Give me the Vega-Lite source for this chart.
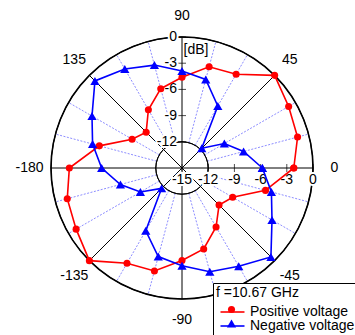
{
  "$schema": "https://vega.github.io/schema/vega-lite/v6.json",
  "width": 300,
  "height": 300,
  "autosize": {"type": "none"},
  "padding": {"left": 32, "top": 18, "right": 23, "bottom": 17},
  "background": "white",
  "config": {
    "view": {"stroke": null},
    "font": "Liberation Sans",
    "text": {"font": "Liberation Sans", "fontSize": 14, "color": "black"},
    "legend": {
      "titleFont": "Liberation Sans", "titleFontSize": 14, "titleFontWeight": "normal", "titleColor": "black",
      "labelFont": "Liberation Sans", "labelFontSize": 14, "labelColor": "black", "labelLimit": 200,
      "padding": 3, "rowPadding": 0
    }
  },
  "datasets": {
    "spokesBlue": [
      {"angle": 15}, {"angle": 30}, {"angle": 60}, {"angle": 75},
      {"angle": 105}, {"angle": 120}, {"angle": 150}, {"angle": 165},
      {"angle": 195}, {"angle": 210}, {"angle": 240}, {"angle": 255},
      {"angle": 285}, {"angle": 300}, {"angle": 330}, {"angle": 345}
    ],
    "spokesBlack": [
      {"angle": 0}, {"angle": 45}, {"angle": 90}, {"angle": 135},
      {"angle": 180}, {"angle": 225}, {"angle": 270}, {"angle": 315}
    ],
    "rings": [{"db": -12}, {"db": -9}, {"db": -6}, {"db": -3}],
    "outer": [{"db": 0}],
    "angleLabels": [
      {"angle": 0, "label": "0"}, {"angle": 45, "label": "45"},
      {"angle": 90, "label": "90"}, {"angle": 135, "label": "135"},
      {"angle": 180, "label": "-180"}, {"angle": 225, "label": "-135"},
      {"angle": 270, "label": "-90"}, {"angle": 315, "label": "-45"}
    ],
    "hLabels": [
      {"db": -15}, {"db": -12}, {"db": -9}, {"db": -6}, {"db": -3}, {"db": 0}
    ],
    "vLabels": [
      {"db": -12}, {"db": -9}, {"db": -6}, {"db": -3}, {"db": 0}
    ],
    "pattern": [
      {"series": "Positive voltage", "angle": 0, "db": -2.2},
      {"series": "Positive voltage", "angle": 15, "db": -1.3},
      {"series": "Positive voltage", "angle": 30, "db": -0.9},
      {"series": "Positive voltage", "angle": 45, "db": 0.0},
      {"series": "Positive voltage", "angle": 60, "db": -2.6},
      {"series": "Positive voltage", "angle": 75, "db": -3.0},
      {"series": "Positive voltage", "angle": 90, "db": -4.6},
      {"series": "Positive voltage", "angle": 105, "db": -5.6},
      {"series": "Positive voltage", "angle": 120, "db": -7.3},
      {"series": "Positive voltage", "angle": 135, "db": -9.2},
      {"series": "Positive voltage", "angle": 150, "db": -8.4},
      {"series": "Positive voltage", "angle": 165, "db": -5.2},
      {"series": "Positive voltage", "angle": 180, "db": -2.1},
      {"series": "Positive voltage", "angle": 195, "db": -1.4},
      {"series": "Positive voltage", "angle": 210, "db": -1.0},
      {"series": "Positive voltage", "angle": 225, "db": 0.0},
      {"series": "Positive voltage", "angle": 240, "db": -2.4},
      {"series": "Positive voltage", "angle": 255, "db": -2.8},
      {"series": "Positive voltage", "angle": 270, "db": -4.4},
      {"series": "Positive voltage", "angle": 285, "db": -5.4},
      {"series": "Positive voltage", "angle": 300, "db": -7.2},
      {"series": "Positive voltage", "angle": 315, "db": -9.0},
      {"series": "Positive voltage", "angle": 330, "db": -8.3},
      {"series": "Positive voltage", "angle": 345, "db": -5.1},
      {"series": "Positive voltage", "angle": 360, "db": -2.2},
      {"series": "Negative voltage", "angle": 0, "db": -5.8},
      {"series": "Negative voltage", "angle": 15, "db": -7.7},
      {"series": "Negative voltage", "angle": 30, "db": -9.4},
      {"series": "Negative voltage", "angle": 45, "db": -11.8},
      {"series": "Negative voltage", "angle": 60, "db": -6.8},
      {"series": "Negative voltage", "angle": 75, "db": -4.5},
      {"series": "Negative voltage", "angle": 90, "db": -3.9},
      {"series": "Negative voltage", "angle": 105, "db": -2.8},
      {"series": "Negative voltage", "angle": 120, "db": -1.9},
      {"series": "Negative voltage", "angle": 135, "db": -0.9},
      {"series": "Negative voltage", "angle": 150, "db": -3.1},
      {"series": "Negative voltage", "angle": 165, "db": -4.4},
      {"series": "Negative voltage", "angle": 180, "db": -5.8},
      {"series": "Negative voltage", "angle": 195, "db": -7.7},
      {"series": "Negative voltage", "angle": 210, "db": -9.5},
      {"series": "Negative voltage", "angle": 225, "db": -11.7},
      {"series": "Negative voltage", "angle": 240, "db": -6.7},
      {"series": "Negative voltage", "angle": 255, "db": -4.5},
      {"series": "Negative voltage", "angle": 270, "db": -3.8},
      {"series": "Negative voltage", "angle": 285, "db": -2.7},
      {"series": "Negative voltage", "angle": 300, "db": -2.0},
      {"series": "Negative voltage", "angle": 315, "db": -0.6},
      {"series": "Negative voltage", "angle": 330, "db": -3.1},
      {"series": "Negative voltage", "angle": 345, "db": -4.4},
      {"series": "Negative voltage", "angle": 360, "db": -5.8}
    ]
  },
  "layer": [
    {
      "data": {"name": "spokesBlue"},
      "transform": [
        {"calculate": "3 * cos(datum.angle * PI / 180)", "as": "x"},
        {"calculate": "3 * sin(datum.angle * PI / 180)", "as": "y"},
        {"calculate": "15 * cos(datum.angle * PI / 180)", "as": "x2"},
        {"calculate": "15 * sin(datum.angle * PI / 180)", "as": "y2"}
      ],
      "mark": {"type": "rule", "color": "#8080ff", "strokeWidth": 0.9, "strokeDash": [2, 1.5]},
      "encoding": {
        "x": {"field": "x", "type": "quantitative", "scale": {"domain": [-17.176, 17.176], "nice": false, "zero": false}, "axis": null},
        "y": {"field": "y", "type": "quantitative", "scale": {"domain": [-17.176, 17.176], "nice": false, "zero": false}, "axis": null},
        "x2": {"field": "x2"},
        "y2": {"field": "y2"}
      }
    },
    {
      "data": {"name": "spokesBlack"},
      "transform": [
        {"calculate": "0", "as": "x"},
        {"calculate": "0", "as": "y"},
        {"calculate": "15 * cos(datum.angle * PI / 180)", "as": "x2"},
        {"calculate": "15 * sin(datum.angle * PI / 180)", "as": "y2"}
      ],
      "mark": {"type": "rule", "color": "black", "strokeWidth": 1},
      "encoding": {
        "x": {"field": "x", "type": "quantitative", "scale": {"domain": [-17.176, 17.176], "nice": false, "zero": false}, "axis": null},
        "y": {"field": "y", "type": "quantitative", "scale": {"domain": [-17.176, 17.176], "nice": false, "zero": false}, "axis": null},
        "x2": {"field": "x2"},
        "y2": {"field": "y2"}
      }
    },
    {
      "data": {"name": "rings"},
      "mark": {"type": "arc", "theta": 6.2832, "filled": false, "stroke": "black", "strokeWidth": 1},
      "encoding": {
        "radius": {"field": "db", "type": "quantitative", "scale": {"type": "linear", "domain": [-15, 2.176], "range": [0, 150], "zero": false, "nice": false}}
      }
    },
    {
      "data": {"name": "outer"},
      "mark": {"type": "arc", "theta": 6.2832, "filled": false, "stroke": "black", "strokeWidth": 1.6},
      "encoding": {
        "radius": {"field": "db", "type": "quantitative", "scale": {"type": "linear", "domain": [-15, 2.176], "range": [0, 150], "zero": false, "nice": false}}
      }
    },
    {
      "data": {"name": "vLabels"},
      "transform": [
        {"calculate": "0", "as": "x"},
        {"calculate": "datum.db + 15", "as": "y"}
      ],
      "mark": {"type": "tick", "orient": "horizontal", "size": 8, "thickness": 1, "color": "black"},
      "encoding": {
        "x": {"field": "x", "type": "quantitative", "scale": {"domain": [-17.176, 17.176], "nice": false, "zero": false}, "axis": null},
        "y": {"field": "y", "type": "quantitative", "scale": {"domain": [-17.176, 17.176], "nice": false, "zero": false}, "axis": null}
      }
    },
    {
      "data": {"name": "hLabels"},
      "transform": [
        {"calculate": "datum.db + 15", "as": "x"},
        {"calculate": "0", "as": "y"}
      ],
      "mark": {"type": "tick", "orient": "vertical", "size": 8, "thickness": 1, "color": "black"},
      "encoding": {
        "x": {"field": "x", "type": "quantitative", "scale": {"domain": [-17.176, 17.176], "nice": false, "zero": false}, "axis": null},
        "y": {"field": "y", "type": "quantitative", "scale": {"domain": [-17.176, 17.176], "nice": false, "zero": false}, "axis": null}
      }
    },
    {
      "data": {"name": "hLabels"},
      "transform": [
        {"calculate": "datum.db + 15", "as": "x"},
        {"calculate": "0", "as": "y"}
      ],
      "mark": {"type": "text", "align": "center", "baseline": "middle", "dy": 12, "stroke": "white", "strokeWidth": 4, "fill": "white"},
      "encoding": {
        "x": {"field": "x", "type": "quantitative", "scale": {"domain": [-17.176, 17.176], "nice": false, "zero": false}, "axis": null},
        "y": {"field": "y", "type": "quantitative", "scale": {"domain": [-17.176, 17.176], "nice": false, "zero": false}, "axis": null},
        "text": {"field": "db", "type": "nominal"}
      }
    },
    {
      "data": {"name": "hLabels"},
      "transform": [
        {"calculate": "datum.db + 15", "as": "x"},
        {"calculate": "0", "as": "y"}
      ],
      "mark": {"type": "text", "align": "center", "baseline": "middle", "dy": 12, "color": "black"},
      "encoding": {
        "x": {"field": "x", "type": "quantitative", "scale": {"domain": [-17.176, 17.176], "nice": false, "zero": false}, "axis": null},
        "y": {"field": "y", "type": "quantitative", "scale": {"domain": [-17.176, 17.176], "nice": false, "zero": false}, "axis": null},
        "text": {"field": "db", "type": "nominal"}
      }
    },
    {
      "data": {"name": "vLabels"},
      "transform": [
        {"calculate": "0", "as": "x"},
        {"calculate": "datum.db + 15", "as": "y"}
      ],
      "mark": {"type": "text", "align": "right", "baseline": "middle", "dx": -5, "stroke": "white", "strokeWidth": 4, "fill": "white"},
      "encoding": {
        "x": {"field": "x", "type": "quantitative", "scale": {"domain": [-17.176, 17.176], "nice": false, "zero": false}, "axis": null},
        "y": {"field": "y", "type": "quantitative", "scale": {"domain": [-17.176, 17.176], "nice": false, "zero": false}, "axis": null},
        "text": {"field": "db", "type": "nominal"}
      }
    },
    {
      "data": {"name": "vLabels"},
      "transform": [
        {"calculate": "0", "as": "x"},
        {"calculate": "datum.db + 15", "as": "y"}
      ],
      "mark": {"type": "text", "align": "right", "baseline": "middle", "dx": -5, "color": "black"},
      "encoding": {
        "x": {"field": "x", "type": "quantitative", "scale": {"domain": [-17.176, 17.176], "nice": false, "zero": false}, "axis": null},
        "y": {"field": "y", "type": "quantitative", "scale": {"domain": [-17.176, 17.176], "nice": false, "zero": false}, "axis": null},
        "text": {"field": "db", "type": "nominal"}
      }
    },
    {
      "data": {"values": [{"label": "[dB]"}]},
      "mark": {"type": "text", "align": "left", "baseline": "middle", "dx": 1.5, "color": "black"},
      "encoding": {
        "x": {"datum": 0, "type": "quantitative", "scale": {"domain": [-17.176, 17.176], "nice": false, "zero": false}, "axis": null},
        "y": {"datum": 13.5, "type": "quantitative", "scale": {"domain": [-17.176, 17.176], "nice": false, "zero": false}, "axis": null},
        "text": {"field": "label", "type": "nominal"}
      }
    },
    {
      "data": {"name": "angleLabels"},
      "transform": [
        {"calculate": "17.45 * cos(datum.angle * PI / 180)", "as": "x"},
        {"calculate": "17.45 * sin(datum.angle * PI / 180)", "as": "y"}
      ],
      "mark": {"type": "text", "align": "center", "baseline": "middle", "color": "black"},
      "encoding": {
        "x": {"field": "x", "type": "quantitative", "scale": {"domain": [-17.176, 17.176], "nice": false, "zero": false}, "axis": null},
        "y": {"field": "y", "type": "quantitative", "scale": {"domain": [-17.176, 17.176], "nice": false, "zero": false}, "axis": null},
        "text": {"field": "label", "type": "nominal"}
      }
    },
    {
      "data": {"name": "pattern"},
      "transform": [
        {"calculate": "(datum.db + 15) * cos(datum.angle * PI / 180)", "as": "x"},
        {"calculate": "(datum.db + 15) * sin(datum.angle * PI / 180)", "as": "y"}
      ],
      "mark": {"type": "line", "strokeWidth": 1.6},
      "encoding": {
        "x": {"field": "x", "type": "quantitative", "scale": {"domain": [-17.176, 17.176], "nice": false, "zero": false}, "axis": null},
        "y": {"field": "y", "type": "quantitative", "scale": {"domain": [-17.176, 17.176], "nice": false, "zero": false}, "axis": null},
        "order": {"field": "angle", "type": "quantitative"},
        "color": {
          "field": "series", "type": "nominal",
          "scale": {"domain": ["Positive voltage", "Negative voltage"], "range": ["#ff0000", "#0000ff"]},
          "legend": {
            "orient": "none", "legendX": 181, "legendY": 265,
            "title": "f =10.67 GHz", "titlePadding": 5,
            "strokeColor": "black", "fillColor": "white",
            "symbolType": "M-0.714,0H6.14", "symbolSize": 49, "symbolStrokeWidth": 1.6,
            "labelOffset": 20
          }
        }
      }
    },
    {
      "data": {"name": "pattern"},
      "transform": [
        {"calculate": "(datum.db + 15) * cos(datum.angle * PI / 180)", "as": "x"},
        {"calculate": "(datum.db + 15) * sin(datum.angle * PI / 180)", "as": "y"}
      ],
      "mark": {"type": "point", "filled": true, "opacity": 1},
      "encoding": {
        "x": {"field": "x", "type": "quantitative", "scale": {"domain": [-17.176, 17.176], "nice": false, "zero": false}, "axis": null},
        "y": {"field": "y", "type": "quantitative", "scale": {"domain": [-17.176, 17.176], "nice": false, "zero": false}, "axis": null},
        "fill": {
          "field": "series", "type": "nominal", "sort": "descending",
          "scale": {"range": ["#ff0000", "#0000ff"]},
          "legend": {
            "orient": "none", "legendX": 189.5, "legendY": 281.5, "title": null,
            "strokeColor": null, "fillColor": null, "labelExpr": "' '", "labelOffset": 20
          }
        },
        "shape": {
          "field": "series", "type": "nominal", "sort": "descending",
          "scale": {"range": ["circle", "triangle-up"]},
          "legend": {
            "orient": "none", "legendX": 189.5, "legendY": 281.5, "title": null,
            "strokeColor": null, "fillColor": null, "labelExpr": "' '", "labelOffset": 20
          }
        },
        "size": {
          "field": "series", "type": "nominal", "sort": "descending",
          "scale": {"range": [50, 85]},
          "legend": {
            "orient": "none", "legendX": 189.5, "legendY": 281.5, "title": null,
            "strokeColor": null, "fillColor": null, "labelExpr": "' '", "labelOffset": 20
          }
        }
      }
    }
  ]
}
